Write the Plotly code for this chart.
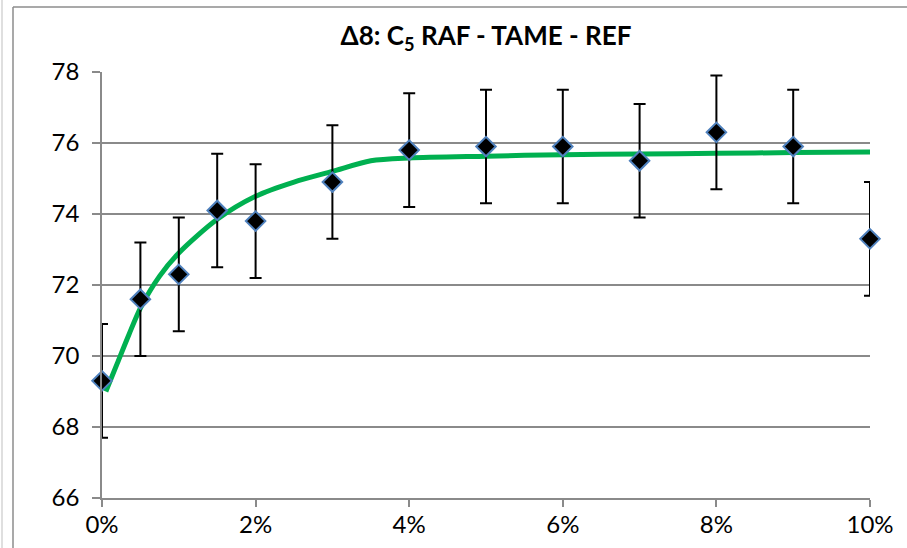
import plotly.graph_objects as go

# Measured points: additive concentration (%) vs. value, with ± error
conc_pct = [0, 0.5, 1, 1.5, 2, 3, 4, 5, 6, 7, 8, 9, 10]
measured = [69.3, 71.6, 72.3, 74.1, 73.8, 74.9, 75.8, 75.9, 75.9, 75.5, 76.3, 75.9, 73.3]
err = [1.6, 1.6, 1.6, 1.6, 1.6, 1.6, 1.6, 1.6, 1.6, 1.6, 1.6, 1.6, 1.6]

# Fitted trend curve
fit_x = [0.05, 0.2, 0.35, 0.5, 0.75, 1.0, 1.5, 2.0, 2.5, 3.0, 3.5, 4.0, 5.0, 6.0, 7.0, 8.0, 9.0, 10.0]
fit_y = [69.0, 69.8, 70.6, 71.35, 72.25, 72.9, 73.85, 74.5, 74.9, 75.2, 75.5, 75.58, 75.63, 75.67, 75.69, 75.71, 75.73, 75.75]

y_ticks = [66, 68, 70, 72, 74, 76, 78]
x_ticks = [0, 2, 4, 6, 8, 10]

FONT = "Lato, 'Open Sans', sans-serif"
GRID = "#8a8a8a"
TICKFONT = dict(family=FONT, size=24, color="black")

fig = go.Figure()

fig.add_trace(go.Scatter(
    x=fit_x, y=fit_y, mode="lines",
    line=dict(color="#00B050", width=5, shape="spline", smoothing=0.8),
    showlegend=False, cliponaxis=False,
))

fig.add_trace(go.Scatter(
    x=conc_pct, y=measured, mode="markers",
    marker=dict(symbol="diamond", size=15, color="black",
                line=dict(color="#4F81BD", width=2)),
    error_y=dict(type="data", array=err, visible=True,
                 color="black", thickness=2, width=6),
    showlegend=False, cliponaxis=False,
))

fig.update_layout(
    width=907, height=548,
    margin=dict(l=102, r=37, t=72, b=50),
    paper_bgcolor="white", plot_bgcolor="white",
    font=dict(family=FONT, size=22, color="black"),
    title=dict(
        text="<b>Δ8: C<sub>5</sub> RAF - TAME - REF</b>",
        x=(102 + 870) / 2 / 907, xanchor="center",
        y=1 - 36 / 548, yanchor="middle",
        font=dict(family=FONT, size=26, color="black"),
    ),
    xaxis=dict(
        range=[0, 10], tickvals=x_ticks,
        ticktext=[f"{v}%" for v in x_ticks],
        tickfont=TICKFONT, automargin=False,
        showgrid=False, zeroline=False,
        showline=True, linecolor=GRID, linewidth=1.5,
        ticks="outside", ticklen=7, tickcolor=GRID, tickwidth=1.5,
        ticklabelstandoff=-3,
    ),
    yaxis=dict(
        range=[66, 78], tickvals=y_ticks,
        tickfont=TICKFONT, automargin=False,
        showgrid=True, gridcolor=GRID, gridwidth=1.5,
        zeroline=False,
        showline=True, linecolor=GRID, linewidth=1.5,
        ticks="outside", ticklen=8, tickcolor=GRID, tickwidth=1.5,
        ticklabelstandoff=8,
    ),
    shapes=[
        # chart-area frame (left and top edges)
        dict(type="line", xref="paper", yref="paper",
             x0=(13 - 102) / 768, x1=(13 - 102) / 768,
             y0=-0.2, y1=(498 - 7) / 426,
             line=dict(color="#8c8c8c", width=1.5)),
        dict(type="line", xref="paper", yref="paper",
             x0=(13 - 102) / 768, x1=1.1,
             y0=(498 - 7) / 426, y1=(498 - 7) / 426,
             line=dict(color="#8c8c8c", width=1.5)),
        dict(type="line", xref="paper", yref="paper",
             x0=(2 - 102) / 768, x1=(2 - 102) / 768,
             y0=-0.2, y1=1.3,
             line=dict(color="#d4d4d4", width=1.5)),
    ],
)

fig.write_html("out.html")
